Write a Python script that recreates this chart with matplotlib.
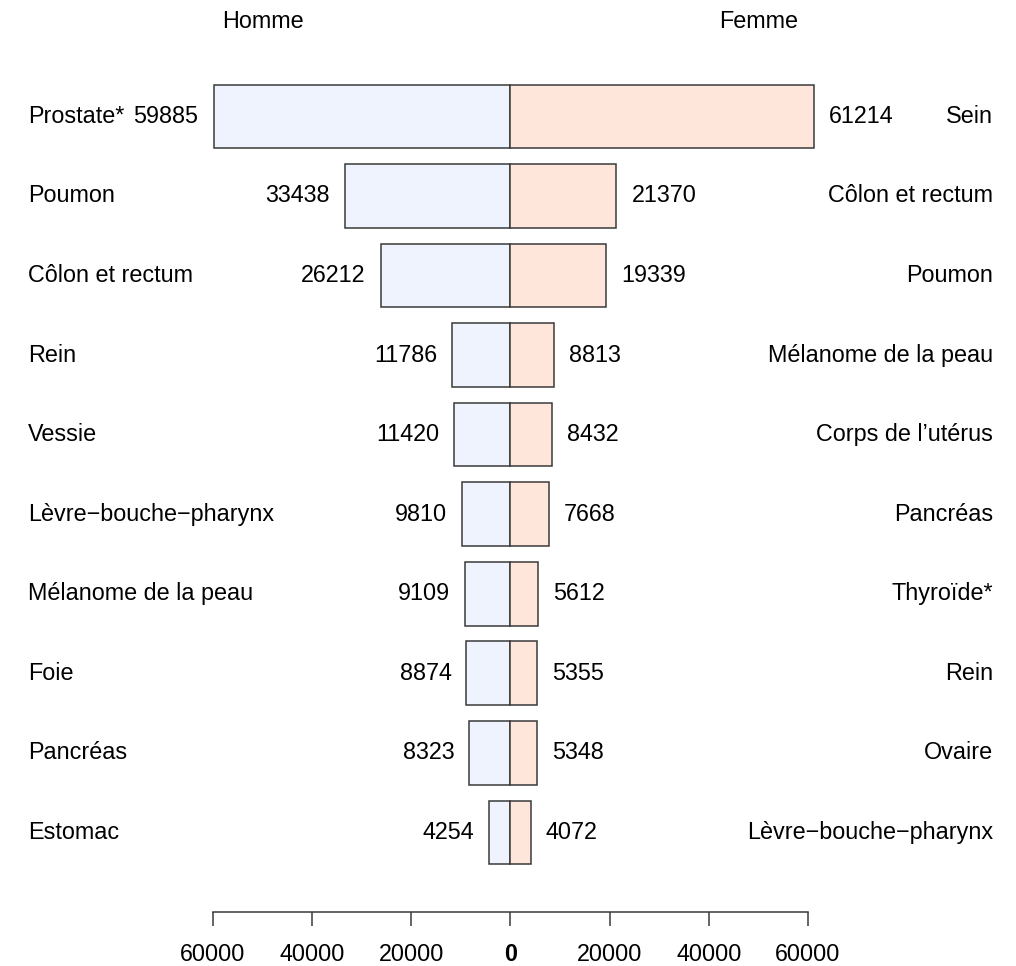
import matplotlib.pyplot as plt
import matplotlib.transforms as mtransforms

plt.rcParams['font.family'] = ['Liberation Sans', 'DejaVu Sans']

# data (R draws the hyphen as a minus sign)
homme_sites = ['Prostate*', 'Poumon', 'Côlon et rectum', 'Rein', 'Vessie',
               'Lèvre−bouche−pharynx', 'Mélanome de la peau', 'Foie',
               'Pancréas', 'Estomac']
homme_vals = [59885, 33438, 26212, 11786, 11420, 9810, 9109, 8874, 8323, 4254]
femme_sites = ['Sein', 'Côlon et rectum', 'Poumon', 'Mélanome de la peau',
               'Corps de l’utérus', 'Pancréas', 'Thyroïde*', 'Rein',
               'Ovaire', 'Lèvre−bouche−pharynx']
femme_vals = [61214, 21370, 19339, 8813, 8432, 7668, 5612, 5355, 5348, 4072]
ticks = [-60000, -40000, -20000, 0, 20000, 40000, 60000]
tick_labels = ['60000', '40000', '20000', '0', '20000', '40000', '60000']

W, H = 1016, 966
fig = plt.figure(figsize=(W / 100, H / 100), dpi=100)
# axes: x from px 213 to 808, y from px 75 to 912
ax = fig.add_axes([213 / W, 1 - 912 / H, (808 - 213) / W, (912 - 75) / H])
ax.set_xlim(-60000, 60000)
ax.set_ylim(10.0, -0.52)

fs = 16.8
pos = list(range(len(homme_vals)))
ax.barh(pos, [-v for v in homme_vals], height=0.8, color='#eef3fe',
        edgecolor='#3a3a3a', linewidth=1.1, clip_on=False)
ax.barh(pos, femme_vals, height=0.8, color='#fee6da',
        edgecolor='#3a3a3a', linewidth=1.1, clip_on=False)

trans_l = mtransforms.blended_transform_factory(fig.transFigure, ax.transData)
for i in pos:
    ax.annotate(str(homme_vals[i]), (-homme_vals[i], i), xytext=(-10.8, 0),
                textcoords='offset points', ha='right', va='center',
                fontsize=fs, annotation_clip=False)
    ax.annotate(str(femme_vals[i]), (femme_vals[i], i), xytext=(10.8, 0),
                textcoords='offset points', ha='left', va='center',
                fontsize=fs, annotation_clip=False)
    ax.text(28 / W, i, homme_sites[i], transform=trans_l, ha='left',
            va='center', fontsize=fs)
    ax.text(993 / W, i, femme_sites[i], transform=trans_l, ha='right',
            va='center', fontsize=fs)

fig.text((511 + (-50000) / 60000 * 297.5) / W, 1 - 21 / H, 'Homme',
         ha='center', va='center', fontsize=fs)
fig.text((511 + 50000 / 60000 * 297.5) / W, 1 - 21 / H, 'Femme',
         ha='center', va='center', fontsize=fs)

for s in ['top', 'left', 'right']:
    ax.spines[s].set_visible(False)
ax.spines['bottom'].set_bounds(-60000, 60000)
ax.spines['bottom'].set_color('#3a3a3a')
ax.spines['bottom'].set_linewidth(1.1)
ax.set_yticks([])
ax.set_xticks(ticks)
ax.set_xticklabels(tick_labels, fontsize=fs)
ax.get_xticklabels()[3].set_fontweight('bold')
ax.tick_params(axis='x', direction='out', length=10, width=1.1,
               color='#3a3a3a', pad=12)

fig.savefig('out.png', dpi=100)
